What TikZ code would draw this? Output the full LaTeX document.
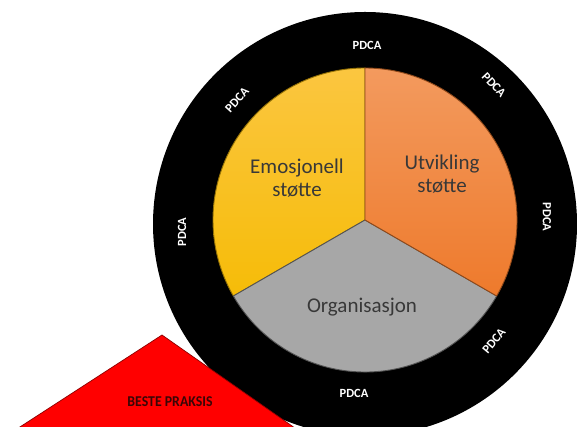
\documentclass[tikz,border=0pt]{standalone}
\usepackage{fontspec}
\setmainfont{Carlito}
\definecolor{gold1}{HTML}{FBC640}
\definecolor{gold2}{HTML}{F6BC08}
\definecolor{orange1}{HTML}{F39A5E}
\definecolor{orange2}{HTML}{EE7A2C}
\definecolor{grey1}{HTML}{A7A7A7}
\definecolor{textgrey}{HTML}{383838}
\definecolor{darkred}{HTML}{3A0606}
\begin{document}
\begin{tikzpicture}[
    x=1pt,y=1pt,
    sector/.style={line width=.9pt,line join=round},
    pdca/.style={text=white,inner sep=0pt,font=\bfseries\fontsize{12.5}{12.5}\selectfont},
    part/.style={text=textgrey,align=center,inner sep=0pt,font=\fontsize{21}{23}\selectfont}
    ]
    \useasboundingbox (0,0) rectangle (577,427);
    \clip (0,0) rectangle (577,427);
    \coordinate (c) at (365,207);
    % black ring
    \fill[black] (365,203) circle (212);
    % the three parts
    \path[sector,top color=gold1,bottom color=gold2,draw=gold2!60!black]
      (c) -- ++(90:152) arc (90:210:152) -- cycle;
    \path[sector,fill=grey1,draw=grey1!50!black]
      (c) -- ++(210:152) arc (210:330:152) -- cycle;
    \path[sector,top color=orange1,bottom color=orange2,draw=orange2!60!black]
      (c) -- ++(330:152) arc (330:450:152) -- cycle;
    \node[part](emo) at (297,249){Emosjonell\\støtte};
    \node[part](utv) at (442,253){Utvikling\\støtte};
    \node[part](org) at (362,120){Organisasjon};
    % PDCA round the ring
    \foreach \px/\py/\rot [count=\i] in {367/382/0, 237/327/48, 182/195/90,
        494/342/-47, 547/210/-90, 494/86/50, 354/34/0}
      \node[pdca,rotate=\rot](p\i) at (\px,\py){PDCA};
    % beste praksis
    \fill[red,draw=red!55!black,line width=.7pt]
      (162,92) -- (-11,-20) -- (322,-20) -- cycle;
    \node[text=darkred,font=\bfseries\fontsize{15}{15}\selectfont,
      xscale=.92](bp) at (170,25){BESTE PRAKSIS};
\end{tikzpicture}
\end{document}
